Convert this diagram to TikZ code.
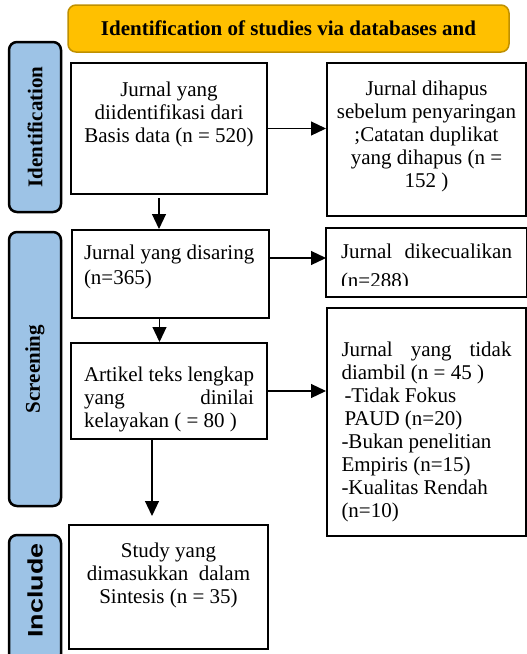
\documentclass[tikz,border=0pt]{standalone}
\usepackage{graphicx}
\usepackage{fontspec}
\setmainfont{Liberation Serif}
\newfontfamily\arialfont{Liberation Sans}
\usetikzlibrary{arrows.meta}
\tikzset{>={Triangle[length=15pt,width=14pt]}}
\definecolor{bannerfill}{RGB}{255,192,0}
\definecolor{bannerline}{RGB}{191,144,0}
\definecolor{sidefill}{RGB}{157,195,230}

\begin{document}
\begin{tikzpicture}[x=1pt,y=-1pt,
  box/.style={draw,line width=2pt,anchor=north west,inner xsep=6pt,inner ysep=0pt,font=\fontsize{21}{23}\selectfont},
  side/.style={draw,line width=2.5pt,rounded corners=8pt,fill=sidefill,minimum width=52pt,font=\fontsize{21}{23}\selectfont\bfseries},
  arr/.style={->,line width=1.2pt}]
\useasboundingbox (0,0) rectangle (527,654);

% banner
\node[draw=bannerline,fill=bannerfill,line width=1.5pt,rounded corners=8pt,minimum width=441pt,minimum height=47pt,font=\fontsize{21}{23}\selectfont\bfseries] (title) at (288.5,28.5) {Identification of studies via databases and};

% phases
\node[side,minimum height=170pt] (idlab) at (35,127) {\rotatebox{90}{Identification}};
\node[side,minimum height=274pt] (scrlab) at (35,369) {\rotatebox{90}{Screening}};
\node[side,minimum height=127pt,font=\fontsize{21}{23}\arialfont\bfseries] (inclab) at (35,598.5) {\rotatebox{90}{\hspace{16pt}\scalebox{1.28}[1]{Include}}};

% boxes
\node[box] (ident) at (70,62) {\parbox[t][131pt][t]{184pt}{\centering\vspace*{16.9pt}\strut Jurnal yang\\ diidentifikasi dari\\ Basis data (n = 520)}};
\node[box] (dup) at (326,62) {\parbox[t][153pt][t]{187pt}{\centering\vspace*{15.9pt}\strut Jurnal dihapus\\ sebelum penyaringan\\ ;Catatan duplikat\\ yang dihapus (n =\\ 152 )}};
\node[box,inner xsep=12pt,font=\fontsize{21}{25}\selectfont] (screen) at (71,229) {\parbox[t][88pt][t]{173pt}{\raggedright\vspace*{11.5pt}\strut Jurnal yang disaring\\ (n=365)}};
\begin{scope}
\clip (326,228) rectangle (525,285);
\node[box,draw=none,inner xsep=14pt,font=\fontsize{21}{25}\selectfont] (excl) at (326,228) {\parbox[t][67pt][t]{171pt}{\vspace*{11.5pt}\strut Jurnal\hfill dikecualikan\\[4pt] (n=288)}};
\end{scope}
\draw[line width=2pt] (excl.north west) rectangle (excl.south east);
\node[box,inner xsep=13pt] (assess) at (70,342) {\parbox[t][96pt][t]{170pt}{\vspace*{21.9pt}\strut Artikel teks lengkap\\ yang\hfill dinilai\\ kelayakan ( = 80 )}};
\node[box,inner xsep=14.5pt] (notret) at (326,307) {\parbox[t][228pt][t]{170pt}{\vspace*{31.9pt}\strut Jurnal\hfill yang\hfill tidak\\ diambil (n = 45 )\\ \hspace*{3pt}-Tidak Fokus\\ \hspace*{3pt}PAUD (n=20)\\ -Bukan penelitian\\ Empiris (n=15)\\ -Kualitas Rendah\\ (n=10)}};
\node[box] (incl) at (68,524) {\parbox[t][124pt][t]{187pt}{\centering\vspace*{15.9pt}\strut Study yang\\ dimasukkan~ dalam\\ Sintesis (n = 35)}};

% arrows
\draw[arr] (ident.east) -- (ident.east -| dup.west);
\draw[arr] ([yshift=16pt]screen.east) -- ([yshift=16pt]screen.east -| excl.west);
\draw[arr] (assess.east) -- (assess.east -| notret.west);
\draw[arr,shorten <=3pt] ([xshift=-10pt]ident.south) -- ([xshift=-10pt]ident.south |- screen.north);
\draw[arr] ([xshift=-11pt]screen.south) -- ([xshift=-11pt]screen.south |- assess.north);
\draw[arr,shorten >=8pt] ([xshift=-17pt]assess.south) -- ([xshift=-17pt]assess.south |- incl.north);
\end{tikzpicture}
\end{document}
